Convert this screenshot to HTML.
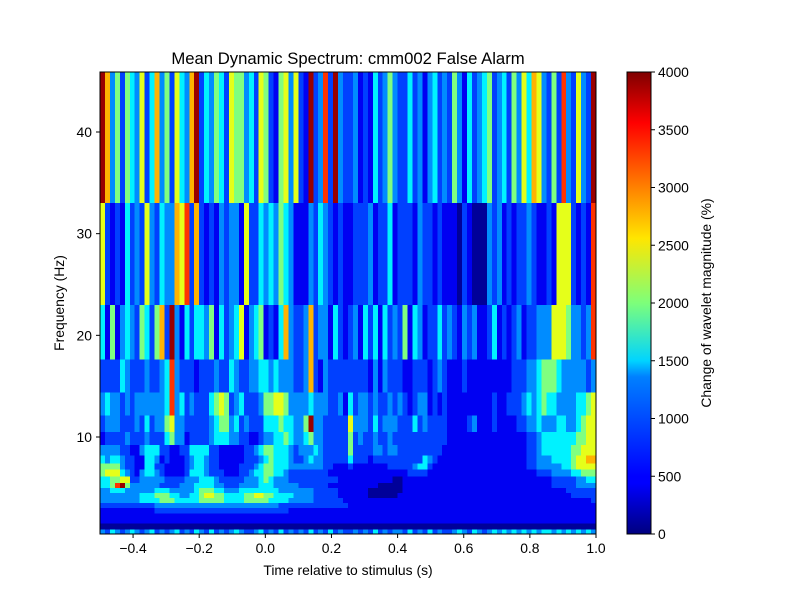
<!DOCTYPE html>
<html><head><meta charset="utf-8"><style>
body{margin:0;background:#fff;}
svg text{font-family:"Liberation Sans",sans-serif;fill:#000;}
</style></head><body>
<svg id="chart" width="800" height="600" viewBox="0 0 800 600" xmlns="http://www.w3.org/2000/svg">
<rect width="800" height="600" fill="#fff"/>
<g id="cells" shape-rendering="crispEdges"></g>
<rect x="100" y="72" width="496" height="462" fill="none" stroke="#000" stroke-width="1"/>
<g id="axes"></g>
<text x="348" y="64" font-size="16.7" text-anchor="middle">Mean Dynamic Spectrum: cmm002 False Alarm</text>
<text x="348" y="575" font-size="13.9" text-anchor="middle">Time relative to stimulus (s)</text>
<text transform="translate(64,303) rotate(-90)" font-size="13.9" text-anchor="middle">Frequency (Hz)</text>
<defs><linearGradient id="jet" x1="0" y1="1" x2="0" y2="0">
<stop offset="0" stop-color="#00007f"/><stop offset="0.11" stop-color="#0000ff"/><stop offset="0.125" stop-color="#0000ff"/>
<stop offset="0.34" stop-color="#0080ff"/><stop offset="0.375" stop-color="#00d4ff"/><stop offset="0.5" stop-color="#7dff7a"/>
<stop offset="0.64" stop-color="#ffe600"/><stop offset="0.89" stop-color="#ff0000"/><stop offset="1" stop-color="#7f0000"/>
</linearGradient></defs>
<rect x="627" y="72" width="24" height="462" fill="url(#jet)" stroke="#000" stroke-width="1"/>
<g id="cbticks"></g>
<text transform="translate(711,303) rotate(-90)" font-size="13.9" text-anchor="middle">Change of wavelet magnitude (%)</text>
</svg>
<script>
const freqEdges=[45.9,33,23,17.6,14.4,12.1,10.5,9.2,8.2,7.4,6.8,6.1,5.5,5.0,4.5,4.0,3.5,3.0,2.5,2.0,1.5,0.9,0.46];
const tStart=-0.5, tStep=0.015;
const levelValues=[100,450,750,1050,1450,2000,2400,2800,3300,3900];
const levelRows=[
"9735254362"+"4735264379"+"2435426553"+"4265215636"+"2192382932"+"2312142353"+"2242313423"+"2531423452"+"3425364763"+"2528326329",
"6212142326"+"3243376827"+"2121323316"+"2243435431"+"1132432121"+"1222312241"+"2221322121"+"1102100032"+"3121223211"+"2166621218",
"4151343254"+"2572931424"+"4351423461"+"3451214732"+"2372331421"+"2314241423"+"2514312242"+"3213231124"+"1212312233"+"3666533238",
"2222432223"+"2234832221"+"2223224322"+"3344343332"+"2372132222"+"2222131322"+"2112221232"+"1112111111"+"1112223345"+"5543333323",
"3433232333"+"3334834232"+"2245652342"+"2235566533"+"3343332231"+"4233232232"+"3212331212"+"1111111112"+"1122234345"+"4433334456",
"2333222324"+"2335633222"+"2234553423"+"2224445443"+"3593322222"+"6333242333"+"2224232222"+"1111231112"+"1111223343"+"3344334566",
"1222232223"+"2224533122"+"2234443322"+"1123344543"+"3453322222"+"5232232232"+"2222222222"+"1111111111"+"1111112234"+"4444445566",
"3333221134"+"4422112244"+"4422111112"+"2345544432"+"3334322222"+"5222233233"+"2222222221"+"1111111111"+"1111112234"+"4444455666",
"4344322114"+"4312111234"+"4322111112"+"2234544432"+"2343322222"+"4222122222"+"2222243211"+"1111111111"+"1111112233"+"3444456677",
"5555322114"+"4221111234"+"4322111122"+"2345544433"+"3333322111"+"2111111122"+"2223442111"+"1111111111"+"1111112233"+"3334456666",
"5666432134"+"4321111244"+"4322211122"+"3445544322"+"2222221111"+"1111111111"+"1122221111"+"1111111111"+"1111111122"+"2333344555",
"4455662233"+"3332222333"+"4443222223"+"3345433322"+"2222222211"+"1111111110"+"0111111111"+"1111111111"+"1111111111"+"1222223344",
"4458953333"+"3322223334"+"4443322233"+"3344433333"+"2222221111"+"1111110000"+"0111111111"+"1111111111"+"1111111111"+"1222223333",
"3344433333"+"3444333334"+"5554433344"+"4444443333"+"3332222211"+"1111000000"+"0111111111"+"1111111111"+"1111111111"+"1111222222",
"3333333344"+"4555443344"+"5665544445"+"5665544443"+"3332222211"+"1111000000"+"1111111111"+"1111111111"+"1111111111"+"1111122222",
"3333333344"+"4455544444"+"5555544445"+"5555444433"+"3332222221"+"1111111111"+"1111111111"+"1111111111"+"1111111111"+"1111111112",
"2222222222"+"2333333333"+"3333333333"+"3333332222"+"2222222222"+"1111111111"+"1111111111"+"1111111111"+"1111111111"+"1111111111",
"1111111111"+"1222222222"+"2222222222"+"2222222211"+"1111111111"+"1111111111"+"1111111111"+"1111111111"+"1111111111"+"1111111111",
"1111111111"+"1111111111"+"1111111111"+"1111111111"+"1111111111"+"1111111111"+"1111111111"+"1111111111"+"1111111111"+"1111111111",
"1111111111"+"1111111111"+"1111111111"+"1111111111"+"1111111111"+"1111111111"+"1111111111"+"1111111111"+"1111111111"+"1111111111",
"0000000000"+"0000000000"+"0000000000"+"0000000000"+"0000000000"+"0000000000"+"0000000000"+"0000000000"+"0000000000"+"0000000000",
"3243234323"+"4232342324"+"3242323432"+"2342324232"+"3242324232"+"2323242323"+"3242324232"+"2343243234"+"3434343434"+"4343434343"
];
const xTicks=[-0.4,-0.2,0.0,0.2,0.4,0.6,0.8,1.0];
const xTickLabels=["−0.4","−0.2","0.0","0.2","0.4","0.6","0.8","1.0"];
const yTicks=[10,20,30,40];
const cbTicks=[0,500,1000,1500,2000,2500,3000,3500,4000];
const vMax=4000;

const NS="http://www.w3.org/2000/svg";
const xs=t=>100+(t-tStart)*496/1.5;
const ys=f=>534-(f-0.46)*462/(45.9-0.46);
const cbs=v=>534-v/vMax*462;
function jet(v){
  const x=Math.max(0,Math.min(1,v/vMax));
  const c=a=>Math.round(255*Math.max(0,Math.min(1,a)));
  const r=c(Math.min(4*x-1.5,-4*x+4.5));
  const g=c(Math.min(4*x-0.5,-4*x+3.5));
  const b=c(Math.min(4*x+0.5,-4*x+2.5));
  return `rgb(${r},${g},${b})`;
}
function mk(tag,attrs,parent){const e=document.createElementNS(NS,tag);for(const k in attrs)e.setAttribute(k,attrs[k]);parent.appendChild(e);return e;}
const cells=document.getElementById('cells');
levelRows.forEach((row,ri)=>{
  const y0=ys(freqEdges[ri]), y1=ys(freqEdges[ri+1]);
  for(let i=0;i<100;i++){
    const d=+(row[i]||'1');
    const v=levelValues[d];
    const x0=xs(tStart+i*tStep), x1=xs(tStart+(i+1)*tStep);
    const r=mk('rect',{x:x0.toFixed(2),y:y0.toFixed(2),width:(x1-x0+0.4).toFixed(2),height:(y1-y0+0.4).toFixed(2),fill:jet(v)},cells);
    
    
  }
});
const axes=document.getElementById('axes');
xTicks.forEach((t,i)=>{
  const x=xs(t);
  const l=mk('line',{x1:x,x2:x,y1:534,y2:538,stroke:'#000'},axes);
  
  
  const tx=mk('text',{x:x,y:553,'font-size':'13.9','text-anchor':'middle'},axes);
  tx.textContent=xTickLabels[i];
  
  
});
yTicks.forEach(f=>{
  const y=ys(f);
  const l=mk('line',{x1:96,x2:100,y1:y,y2:y,stroke:'#000'},axes);
  
  
  const tx=mk('text',{x:92,y:y+5,'font-size':'13.9','text-anchor':'end'},axes);
  tx.textContent=f;
  
  
});
const cbg=document.getElementById('cbticks');
cbTicks.forEach(v=>{
  const y=cbs(v);
  const l=mk('line',{x1:651,x2:655,y1:y,y2:y,stroke:'#000'},cbg);
  
  
  const tx=mk('text',{x:658,y:y+5,'font-size':'13.9'},cbg);
  tx.textContent=v;
  
  
});
</script>
</body></html>
